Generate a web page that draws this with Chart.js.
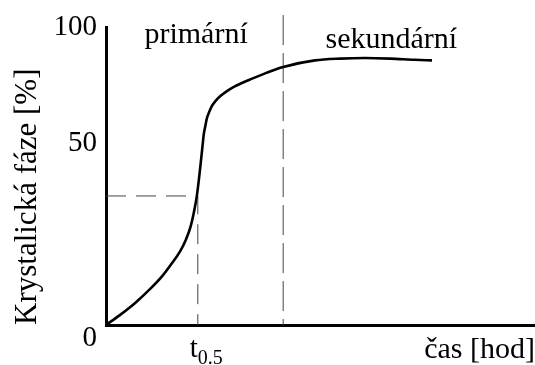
<!DOCTYPE html>
<html>
<head>
<meta charset="utf-8">
<script src="https://cdn.jsdelivr.net/npm/chart.js@4/dist/chart.umd.min.js"></script>
<style>body{margin:0;background:#fff}</style>
</head>
<body>
<canvas id="grafKrystalizace" width="535" height="365"></canvas>
<script>
// hodnoty (osa x 0-100, osa y 0-100)
const casX = [0, 3.3, 6.8, 10.3, 13.1, 15.4, 17.3, 18.7, 19.7, 20.5, 21.2, 21.9, 22.5, 22.8, 23.2, 23.5, 24.0, 24.7, 25.6, 26.8, 28.2, 29.8, 31.7, 33.6, 37.5, 41.3, 48.7, 54.6, 60.4, 66.2, 72.0, 76.0];
const krystal = [0, 3.4, 7.4, 12.1, 16.4, 20.8, 24.8, 28.9, 32.9, 37.9, 43.6, 52.0, 60.1, 64.1, 67.1, 69.3, 71.3, 73.5, 75.3, 77.0, 78.5, 79.9, 81.2, 82.4, 84.7, 86.6, 88.8, 89.4, 89.6, 89.4, 89.0, 88.8];
const tPul = 21.4;
const yPul = 43.3;
const tHranice = 41.3;
const yTickHodnoty = [0, 61, 100];
const yTickPopisky = ['0', '50', '100'];
const oblasti = ['primární', 'sekundární'];

const pismo = '"Liberation Serif", "Times New Roman", serif';

const popisky = {
  id: 'popisky',
  afterDraw(chart) {
    const ctx = chart.ctx;
    const x = chart.scales.x;
    ctx.save();
    ctx.fillStyle = '#000';
    ctx.font = '30px ' + pismo;
    ctx.textAlign = 'center';
    ctx.textBaseline = 'alphabetic';
    ctx.fillText(oblasti[0], x.getPixelForValue(21), 43);
    ctx.fillText(oblasti[1], x.getPixelForValue(66.5), 48);
    // t s dolnim indexem 0.5
    const tx = x.getPixelForValue(tPul);
    ctx.font = '29px ' + pismo;
    ctx.textAlign = 'left';
    const w = ctx.measureText('t').width;
    ctx.fillText('t', tx - 8, 357);
    ctx.font = '20px ' + pismo;
    ctx.fillText('0.5', tx - 8 + w, 364);
    ctx.restore();
  }
};

const graf = document.getElementById('grafKrystalizace').getContext('2d');

new Chart(graf, {
  type: 'line',
  data: {
    datasets: [{
      data: casX.map((v, i) => ({x: v, y: krystal[i]})),
      borderColor: '#000',
      borderWidth: 2.6,
      pointRadius: 0,
      cubicInterpolationMode: 'monotone',
      fill: false
    }, {
      data: [{x: 0, y: yPul}, {x: tPul, y: yPul}, {x: tPul, y: 0}],
      borderColor: '#444',
      borderWidth: 1,
      borderDash: [20, 10],
      pointRadius: 0,
      tension: 0
    }, {
      data: [{x: tHranice, y: 104}, {x: tHranice, y: 0}],
      borderColor: '#444',
      borderWidth: 1,
      borderDash: [30, 8],
      pointRadius: 0,
      tension: 0,
      clip: false
    }]
  },
  options: {
    responsive: false,
    animation: false,
    layout: {padding: {top: 27, right: 0, bottom: 0, left: 0}},
    plugins: {
      legend: {display: false},
      tooltip: {enabled: false}
    },
    scales: {
      x: {
        type: 'linear',
        min: 0,
        max: 100,
        grid: {display: false, drawTicks: false},
        border: {color: '#000', width: 3},
        ticks: {display: false},
        title: {
          display: true,
          text: 'čas [hod]',
          align: 'end',
          color: '#000',
          font: {family: pismo, size: 30, lineHeight: 1},
          padding: 0
        },
        afterFit: s => { s.height = 40; }
      },
      y: {
        min: 0,
        max: 100,
        grid: {display: false, drawTicks: false},
        border: {color: '#000', width: 3},
        afterBuildTicks: s => { s.ticks = yTickHodnoty.map(v => ({value: v})); },
        ticks: {
          color: '#000',
          padding: 9,
          font: {family: pismo, size: 29, lineHeight: 0.9},
          callback: (v, i) => i === 0 ? ['', yTickPopisky[0]] : yTickPopisky[i]
        },
        title: {
          display: true,
          text: 'Krystalická fáze [%]',
          align: 'start',
          color: '#000',
          font: {family: pismo, size: 31, lineHeight: 1},
          padding: {top: 12, bottom: 0}
        },
        afterFit: s => { s.width = 106; }
      }
    }
  },
  plugins: [popisky]
});
</script>
</body>
</html>
